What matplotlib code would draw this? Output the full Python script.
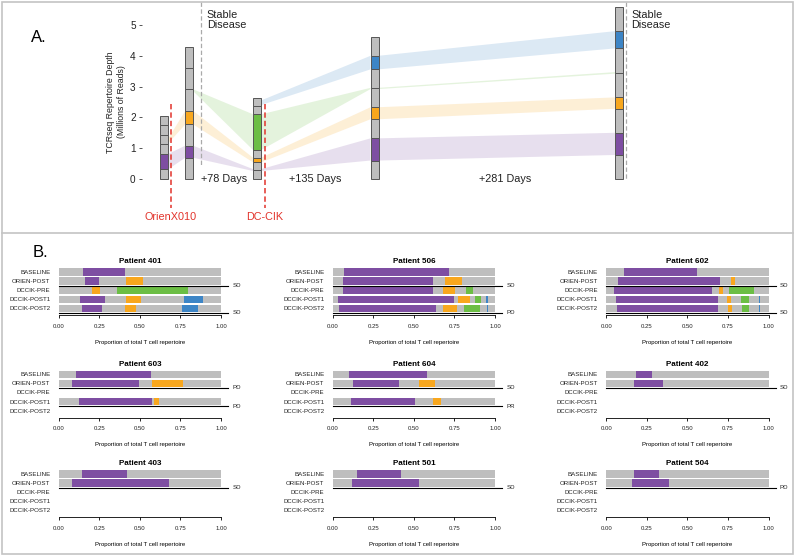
import matplotlib
matplotlib.use('Agg')
import matplotlib.pyplot as plt
from matplotlib.patches import Rectangle
from matplotlib.lines import Line2D

plt.rcParams['font.family'] = ['Liberation Sans', 'DejaVu Sans']

W, H = 794, 556

COL = {'g': '#bebebe', 'p': '#7e4ea2', 'o': '#f8a71e', 'n': '#6cbe45', 'b': '#3d85c6'}

# ---- panel A: repertoire depth per sample (millions of reads)
sample_day = [0, 29, 107, 242, 523]
seg_edges = [
    [0, 0.31, 0.81, 1.13, 1.43, 1.75, 2.03],
    [0, 0.69, 1.08, 1.77, 2.21, 2.91, 3.59, 4.30],
    [0, 0.29, 0.54, 0.69, 0.94, 2.10, 2.37, 2.62],
    [0, 0.60, 1.32, 1.94, 2.33, 2.94, 3.56, 4.00, 4.62],
    [0, 0.78, 1.50, 2.28, 2.65, 3.45, 4.24, 4.80, 5.59],
]
seg_colors = ['gpgggg', 'gpgoggg', 'ggogngg', 'gpgoggbg', 'gpgoggbg']

# colour, from sample, to sample, (lo, hi) at start, (lo, hi) at end
ribbons = [
    ('p', 0, 1, (0.31, 0.81), (0.69, 1.08)),
    ('p', 1, 2, (0.69, 1.08), (0.26, 0.32)),
    ('p', 2, 3, (0.26, 0.32), (0.60, 1.32)),
    ('p', 3, 4, (0.60, 1.32), (0.78, 1.50)),
    ('o', 0, 1, (1.15, 1.30), (1.77, 2.21)),
    ('o', 1, 2, (1.77, 2.21), (0.54, 0.69)),
    ('o', 2, 3, (0.54, 0.69), (1.94, 2.33)),
    ('o', 3, 4, (1.94, 2.33), (2.28, 2.65)),
    ('n', 1, 2, (2.85, 2.91), (0.94, 2.10)),
    ('n', 2, 3, (0.94, 2.10), (2.92, 2.96)),
    ('n', 3, 4, (2.92, 2.96), (3.42, 3.47)),
    ('b', 2, 3, (2.40, 2.55), (3.56, 4.00)),
    ('b', 3, 4, (3.56, 4.00), (4.24, 4.80)),
]
treatments = [(8, 'OrienX010'), (116, 'DC-CIK')]
assessments = [42.5, 531]
intervals = [(42.5, '+78 Days'), (144, '+135 Days'), (362, '+281 Days')]

# ---- panel B: clone proportions per patient
timepoints = ['BASELINE', 'ORIEN-POST', 'DCCIK-PRE', 'DCCIK-POST1', 'DCCIK-POST2']
patients = ['401', '506', '602', '603', '604', '402', '403', '501', '504']

p401 = [[(0.152, 0.407, 'p')],
        [(0.162, 0.251, 'p'), (0.415, 0.517, 'o')],
        [(0.203, 0.257, 'o'), (0.361, 0.795, 'n')],
        [(0.133, 0.283, 'p'), (0.415, 0.507, 'o'), (0.770, 0.887, 'b')],
        [(0.144, 0.267, 'p'), (0.407, 0.474, 'o'), (0.758, 0.858, 'b')]]
p506 = [[(0.070, 0.717, 'p')],
        [(0.066, 0.619, 'p'), (0.689, 0.799, 'o')],
        [(0.066, 0.619, 'p'), (0.682, 0.754, 'o'), (0.824, 0.865, 'n')],
        [(0.033, 0.746, 'p'), (0.775, 0.846, 'o'), (0.877, 0.914, 'n'), (0.943, 0.959, 'b')],
        [(0.039, 0.639, 'p'), (0.680, 0.766, 'o'), (0.807, 0.906, 'n'), (0.949, 0.957, 'b')]]
p602 = [[(0.111, 0.560, 'p')],
        [(0.070, 0.702, 'p'), (0.770, 0.794, 'o')],
        [(0.045, 0.650, 'p'), (0.693, 0.718, 'o'), (0.757, 0.907, 'n')],
        [(0.058, 0.687, 'p'), (0.745, 0.770, 'o'), (0.833, 0.879, 'n'), (0.938, 0.944, 'b')],
        [(0.064, 0.687, 'p'), (0.751, 0.776, 'o'), (0.839, 0.879, 'n'), (0.938, 0.944, 'b')]]
p603 = [[(0.109, 0.567, 'p')],
        [(0.082, 0.495, 'p'), (0.575, 0.764, 'o')],
        None,
        [(0.127, 0.575, 'p'), (0.585, 0.618, 'o')],
        None]
p604 = [[(0.102, 0.582, 'p')],
        [(0.123, 0.410, 'p'), (0.533, 0.633, 'o')],
        None,
        [(0.113, 0.508, 'p'), (0.615, 0.666, 'o')],
        None]
p402 = [[(0.181, 0.284, 'p')], [(0.171, 0.348, 'p')], None, None, None]
p403 = [[(0.146, 0.419, 'p')], [(0.082, 0.678, 'p')], None, None, None]
p501 = [[(0.148, 0.418, 'p')], [(0.117, 0.533, 'p')], None, None, None]
p504 = [[(0.171, 0.327, 'p')], [(0.158, 0.385, 'p')], None, None, None]
clones = [p401, p506, p602, p603, p604, p402, p403, p501, p504]

# response assessed after the given timepoint
responses = [
    [('ORIEN-POST', 'SD'), ('DCCIK-POST2', 'SD')],
    [('ORIEN-POST', 'SD'), ('DCCIK-POST2', 'PD')],
    [('ORIEN-POST', 'SD'), ('DCCIK-POST2', 'SD')],
    [('ORIEN-POST', 'PD'), ('DCCIK-POST1', 'PD')],
    [('ORIEN-POST', 'SD'), ('DCCIK-POST1', 'PR')],
    [('ORIEN-POST', 'SD')],
    [('ORIEN-POST', 'SD')],
    [('ORIEN-POST', 'SD')],
    [('ORIEN-POST', 'PD')],
]


def fig_rect(left, top, right, bottom):
    return [left / W, 1 - bottom / H, (right - left) / W, (bottom - top) / H]


fig = plt.figure(figsize=(W / 100, H / 100), dpi=100)

# frame around the figure and the line between the panels
fig.add_artist(Rectangle((1.5 / W, 1 - 554 / H), 791 / W, 552.5 / H,
                         transform=fig.transFigure, fill=False,
                         edgecolor='#c4c4c4', lw=1.2))
fig.add_artist(Line2D([1.5 / W, 792.5 / W], [1 - 233.5 / H] * 2,
                      transform=fig.transFigure, color='#c4c4c4', lw=1.2))

# ---------------- panel A
px_day, x0_px = 0.87, 164
y0_px, px_unit = 179, 30.8
axA = fig.add_axes(fig_rect(142, 2, 790, 232))
axA.set_xlim((142 - x0_px) / px_day, (790 - x0_px) / px_day)
axA.set_ylim(-(232 - y0_px) / px_unit, (y0_px - 2) / px_unit)
bw = 9.2

for c, i, j, (a0, a1), (b0, b1) in ribbons:
    xa = sample_day[i] + bw / 2
    xb = sample_day[j] - bw / 2
    axA.fill([xa, xa, xb, xb], [a0, a1, b1, b0], color=COL[c], alpha=0.18, lw=0, zorder=1)

for d, edges, cols in zip(sample_day, seg_edges, seg_colors):
    for k, c in enumerate(cols):
        axA.bar(d, edges[k + 1] - edges[k], bottom=edges[k], width=bw, color=COL[c],
                edgecolor='#555555', lw=0.7, zorder=3)

for d, name in treatments:
    axA.plot([d, d], [2.44, -0.95], color='#e2332b', lw=1.1, ls=(0, (3.5, 2)), zorder=4)
    axA.text(d, -1.23, name, color='#e2332b', fontsize=7.8, ha='center', va='center')

axA.plot([assessments[0]] * 2, [5.75, 0.45], color='#aaaaaa', lw=0.9, ls=(0, (3.5, 2)))
axA.plot([assessments[1]] * 2, [5.75, 0.0], color='#aaaaaa', lw=0.9, ls=(0, (3.5, 2)))
for d in assessments:
    axA.text(d + 6.5, 5.5, 'Stable\nDisease', fontsize=7.8, ha='left', va='top',
             color='#222222', linespacing=1.1)

for d, txt in intervals:
    axA.text(d, 0.0, txt, fontsize=7.8, ha='left', va='center', color='#222222')

axA.set_yticks(range(6))
axA.tick_params(axis='y', length=2.5, width=0.7, pad=2, labelsize=7.2,
                colors='#555555', labelcolor='#222222')
axA.set_xticks([])
for s in axA.spines.values():
    s.set_visible(False)
axA.text(-0.04, 2.5, 'TCRseq Repertoire Depth\n(Millions of Reads)',
         transform=axA.get_yaxis_transform(), rotation=90, ha='center', va='center',
         fontsize=6.3, color='#222222', linespacing=1.2)
fig.text(31 / W, 1 - 37 / H, 'A.', fontsize=12, ha='left', va='center')

# ---------------- panel B
fig.text(33 / W, 1 - 252 / H, 'B.', fontsize=12, ha='left', va='center')
col_left = [58.7, 332.7, 606.3]
col_w = 162.3
row_base = [272, 374.3, 474]
step = 9.1
ypos = {t: 4 - k for k, t in enumerate(timepoints)}

for n, (pid, rows, resp) in enumerate(zip(patients, clones, responses)):
    r, c = divmod(n, 3)
    left = col_left[c]
    top = row_base[r] - 0.5 * step
    ax = fig.add_axes(fig_rect(left, top, left + col_w, top + 5.25 * step))
    ax.set_xlim(0, 1)
    ax.set_ylim(-0.75, 4.5)
    for t, segs in zip(timepoints, rows):
        if segs is None:
            continue
        y = ypos[t]
        ax.barh(y, 1, left=0, height=0.8, color=COL['g'], lw=0)
        for s0, s1, cc in segs:
            ax.barh(y, s1 - s0, left=s0, height=0.8, color=COL[cc], lw=0)
    for t, lab in resp:
        y = ypos[t] - 0.5
        ax.plot([0, 1.045], [y, y], color='black', lw=0.8, clip_on=False)
        ax.text(1.07, y, lab, fontsize=4.4, ha='left', va='center', color='#222222')
    ax.set_yticks([ypos[t] for t in timepoints])
    ax.set_yticklabels(timepoints)
    ax.set_xticks([0, 0.25, 0.5, 0.75, 1.0])
    ax.set_xticklabels(['0.00', '0.25', '0.50', '0.75', '1.00'])
    ax.tick_params(axis='y', length=0, pad=6, labelsize=4.4, labelcolor='#222222')
    ax.tick_params(axis='x', length=2.5, width=0.6, pad=3.5, labelsize=4.3,
                   labelcolor='#222222')
    for side in ['left', 'right', 'top']:
        ax.spines[side].set_visible(False)
    ax.spines['bottom'].set_bounds(0, 1)
    ax.spines['bottom'].set_linewidth(0.6)
    ax.set_title('Patient ' + pid, fontsize=5.8, fontweight='bold', pad=3)
    ax.set_xlabel('Proportion of total T cell repertoire', fontsize=4.3, labelpad=8)

fig.savefig('out.png', dpi=100)
